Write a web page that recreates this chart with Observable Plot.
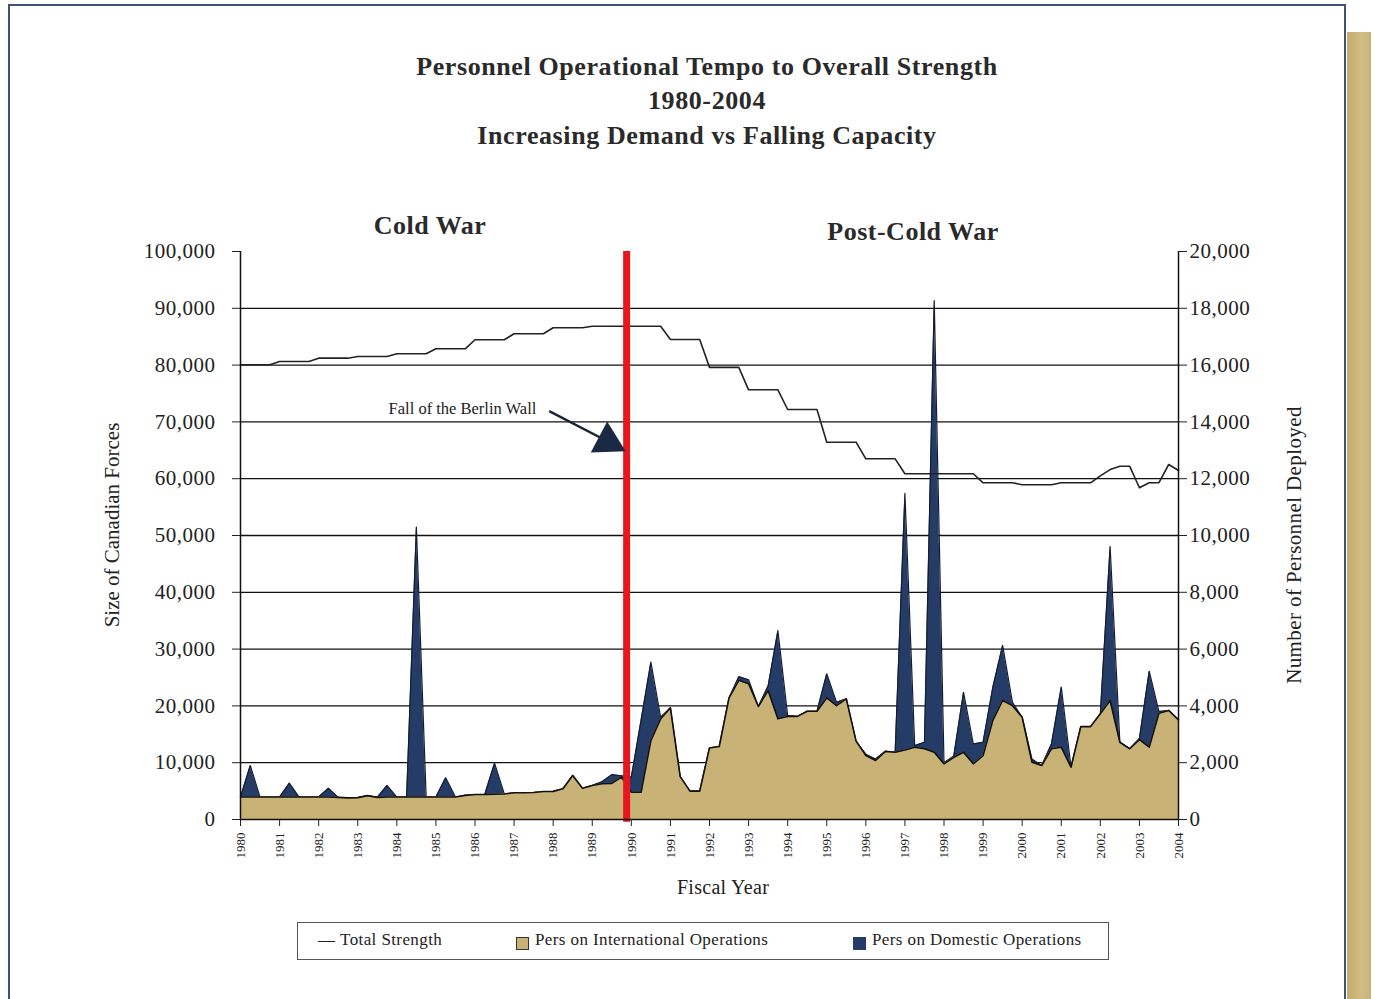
<!DOCTYPE html>
<html><head><meta charset="utf-8">
<script src="https://cdn.jsdelivr.net/npm/d3@7"></script>
<script src="https://cdn.jsdelivr.net/npm/@observablehq/plot@0.6"></script>
<style>
body{margin:0;background:#fff;font-family:"Liberation Serif",serif;color:#222;}
#page{position:relative;width:1374px;height:999px;overflow:hidden;background:#fff;}
.frame{position:absolute;left:8px;top:4px;width:1334px;height:993px;border:2px solid #3f5175;border-bottom:none;}
.gold{position:absolute;left:1347px;top:32px;width:24px;height:967px;background:linear-gradient(90deg,#c4ac6e,#d3bd86 60%,#c8b27a);}
.t{position:absolute;white-space:nowrap;transform:translate(-50%,-50%);}
.title{font-size:26px;font-weight:bold;letter-spacing:0.6px;color:#2a2a2a;}
.era{font-size:26px;font-weight:bold;letter-spacing:0.5px;color:#2a2a2a;}
.ax{font-size:21px;}
#chart{position:absolute;left:0;top:200px;}
.legend{position:absolute;left:297px;top:922px;width:810px;height:36px;border:1.5px solid #555;background:#fff;font-size:17px;letter-spacing:0.4px;}
.legend span{position:absolute;top:7px;white-space:nowrap;}
.sw{position:absolute;top:14px;width:11px;height:11px;border:1px solid #333;}
</style></head><body>
<div id="page">
  <div class="frame"></div>
  <div class="gold"></div>
  <div class="t title" style="left:707px;top:67px">Personnel Operational Tempo to Overall Strength</div>
  <div class="t title" style="left:707px;top:101px">1980-2004</div>
  <div class="t title" style="left:707px;top:136px">Increasing Demand vs Falling Capacity</div>
  <div class="t era" style="left:430px;top:226px">Cold War</div>
  <div class="t era" style="left:913px;top:232px">Post-Cold War</div>
  <div class="t ax" style="left:112px;top:525px;transform:translate(-50%,-50%) rotate(-90deg)">Size of Canadian Forces</div>
  <div class="t ax" style="left:1294px;top:545px;transform:translate(-50%,-50%) rotate(-90deg);letter-spacing:0.4px">Number of Personnel Deployed</div>
  <div class="t ax" style="left:723px;top:887px;font-size:20px;letter-spacing:0.3px">Fiscal Year</div>
  <div id="chart"></div>
  <div class="legend">
    <span style="left:20px">—&nbsp;Total Strength</span>
    <div class="sw" style="left:218px;background:#c9b276"></div>
    <span style="left:237px">Pers on International Operations</span>
    <div class="sw" style="left:555px;background:#243c66;border-color:#243c66"></div>
    <span style="left:574px">Pers on Domestic Operations</span>
  </div>
</div>
<script>
// Fiscal year tick labels
const years = [1980,1981,1982,1983,1984,1985,1986,1987,1988,1989,1990,1991,1992,1993,1994,1995,1996,1997,1998,1999,2000,2001,2002,2003,2004];

// Quarterly values, 1980.00 .. 2004.00 (97 points)
// Personnel on international operations
const intl = [
  790,790,790,790,  790,790,790,790,  790,790,780,760,  770,840,780,790,
  790,790,790,790,  790,790,790,850,  880,880,890,900,  940,940,950,985,
  990,1080,1550,1100, 1200,1260,1270,1490, 960,960,2780,3545, 3930,1510,1000,1000,
  2520,2570,4280,4900, 4780,3980,4540,3545, 3630,3630,3810,3810, 4280,4010,4250,2760,
  2250,2080,2400,2370, 2450,2545,2490,2370, 1960,2190,2370,1960, 2250,3490,4190,4010,
  3600,2020,1900,2490, 2545,1840,3270,3270, 3720,4190,2720,2490, 2810,2545,3740,3840,
  3510
];
// Personnel on domestic operations
const domestic = [
  0,1110,0,0,  0,490,0,0,  0,310,0,0,  0,5,0,410,
  0,0,9510,0,  0,680,0,0,  0,0,1090,0,  0,0,0,0,
  0,0,0,0,  0,70,310,50,  530,2540,2760,55,  0,0,0,0,
  0,0,0,130,  140,0,160,3105,  30,0,0,0,  850,120,0,0,
  50,50,0,0,  9030,55,230,15900,  40,40,2110,700,  470,1170,1940,120,
  0,110,0,170,  2115,0,0,0,  0,5420,0,0,  40,2675,60,0,
  0
];
// Total strength of the Canadian Forces
const strength = [
  80050,80050,80050,80050, 80640,80640,80640,80640, 81220,81220,81220,81220, 81520,81520,81520,81520,
  82000,82000,82000,82000, 82870,82870,82870,82870, 84460,84460,84460,84460, 85510,85510,85510,85510,
  86570,86570,86570,86570, 86850,86850,86850,86850, 86850,86850,86850,86850, 84500,84500,84500,84500,
  79600,79600,79600,79600, 75650,75650,75650,75650, 72180,72180,72180,72180, 66430,66430,66430,66430,
  63500,63500,63500,63500, 60870,60870,60870,60870, 60870,60870,60870,60870, 59280,59280,59280,59280,
  58930,58930,58930,58930, 59280,59280,59280,59280, 60500,61600,62200,62200, 58400,59280,59300,62500,
  61440
];
const leftTicks = [0,10000,20000,30000,40000,50000,60000,70000,80000,90000,100000];
const gridTicks = [10000,20000,30000,40000,50000,60000,70000,80000,90000];
const wallYear = 1989.88;
const RATIO = 5; // right axis (deployed) = left axis / 5

const rows = intl.map((v, i) => ({
  t: 1980 + i / 4,
  intl: v * RATIO,
  total: (v + domestic[i]) * RATIO,
  strength: strength[i]
}));

const navy = "#243c66", tan = "#c9b276";
const fmt = d3.format(",");

const chart = Plot.plot({
  width: 1340, height: 710,
  marginLeft: 240, marginRight: 162, marginTop: 51, marginBottom: 91,
  style: {fontFamily: "Liberation Serif, serif", fontSize: "20px", color: "#222", background: "transparent", overflow: "visible"},
  x: {domain: [1980, 2004]},
  y: {domain: [0, 100000]},
  marks: [
    Plot.ruleY(gridTicks, {stroke: "#111", strokeWidth: 1.3}),
    Plot.areaY(rows, {x: "t", y: "total", fill: navy}),
    Plot.lineY(rows, {x: "t", y: "total", stroke: "#141d33", strokeWidth: 1.2}),
    Plot.areaY(rows, {x: "t", y: "intl", fill: tan}),
    Plot.lineY(rows, {x: "t", y: "intl", stroke: "#111", strokeWidth: 1.6}),
    Plot.lineY(rows, {x: "t", y: "strength", stroke: "#222", strokeWidth: 1.6}),
    Plot.ruleX([wallYear], {stroke: "#e5161d", strokeWidth: 7, y1: -500, y2: 100000}),
    Plot.text([{t: 1987.57, v: 72300}], {x: "t", y: "v", text: () => "Fall of the Berlin Wall", textAnchor: "end", fontSize: 16.5, letterSpacing: 0.5, fill: "#222", style: "letter-spacing:0.6px"}),
    Plot.link([{x1: 1987.9, y1: 71900, x2: 1989.3, y2: 66900}], {x1: "x1", y1: "y1", x2: "x2", y2: "y2", stroke: "#1a2438", strokeWidth: 2.5}),
    Plot.dot([{t: 1989.4, v: 66500}], {x: "t", y: "v", symbol: "triangle", r: 13, rotate: 118, fill: "#1a2a44", stroke: "none"}),
    Plot.ruleY([0], {stroke: "#111", strokeWidth: 1.5}),
    Plot.ruleX([1980, 2004], {stroke: "#111", strokeWidth: 1.5}),
    Plot.axisY({anchor: "left", ticks: leftTicks, tickFormat: fmt, tickSize: 8, tickPadding: 17, label: null, fontSize: 21}),
    Plot.axisY({anchor: "right", ticks: leftTicks, tickFormat: d => fmt(d / RATIO), tickSize: 8, tickPadding: 3, label: null, fontSize: 21}),
    Plot.axisX({ticks: years, tickFormat: d => String(d), tickRotate: -90, tickSize: 7, tickPadding: 6, label: null, fontSize: 13})
  ]
});
// widen tick label spacing slightly like the reference face
chart.querySelectorAll("g[aria-label='y-axis tick label'] text").forEach(t => t.setAttribute("letter-spacing", "0.5"));
document.getElementById("chart").append(chart);
</script>
</body></html>
